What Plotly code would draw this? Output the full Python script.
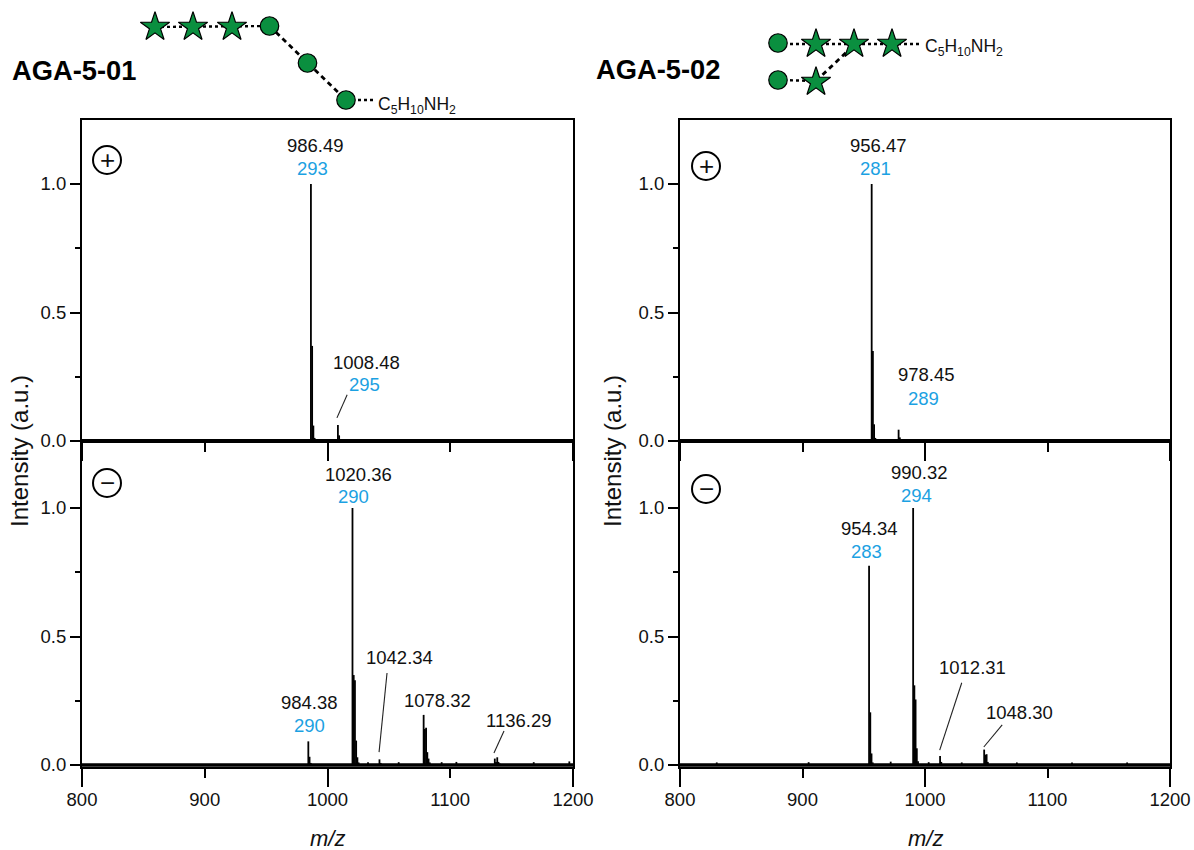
import plotly.graph_objects as go

# ---------- data ----------
peaks_a_pos_x = [986.49, 987.49, 988.49, 989.5, 1008.48, 1009.48, 1010.48]
peaks_a_pos_y = [1.0, 0.37, 0.06, 0.012, 0.062, 0.022, 0.006]
peaks_a_neg_x = [984.38, 985.38, 986.38, 1020.36, 1021.36, 1022.36, 1023.36, 1024.36, 1025.36, 1033, 1042.34, 1043.34,
                 1058, 1078.32, 1079.32, 1080.32, 1081.32, 1082.32, 1083.32, 1093, 1105, 1136.29, 1137.29, 1138.29,
                 1139.29, 1140.29, 1141.3, 1168, 1197]
peaks_a_neg_y = [0.092, 0.032, 0.008, 1.0, 0.35, 0.33, 0.095, 0.03, 0.01, 0.011, 0.022, 0.008,
                 0.011, 0.195, 0.14, 0.145, 0.05, 0.025, 0.01, 0.011, 0.012, 0.025, 0.012, 0.03,
                 0.012, 0.006, 0.004, 0.011, 0.014]
peaks_b_pos_x = [956.47, 957.47, 958.47, 959.47, 978.45, 979.45, 980.45]
peaks_b_pos_y = [1.0, 0.35, 0.065, 0.012, 0.044, 0.014, 0.005]
peaks_b_neg_x = [830, 905, 954.34, 955.34, 956.34, 957.34, 972, 990.32, 991.32, 992.32, 993.32, 994.32,
                 1003, 1012.31, 1013.31, 1030, 1048.30, 1049.30, 1050.30, 1051.30, 1075, 1120, 1165]
peaks_b_neg_y = [0.01, 0.011, 0.775, 0.205, 0.045, 0.01, 0.013, 1.0, 0.31, 0.255, 0.065, 0.015,
                 0.011, 0.035, 0.012, 0.01, 0.06, 0.04, 0.042, 0.012, 0.01, 0.01, 0.01]

x_ticks = [800, 900, 1000, 1100, 1200]
long_x_ticks = [800, 1000, 1200]
y_ticks = [0.0, 0.5, 1.0]
y_minor_ticks = [0.25, 0.75]
y_tick_text = ["0.0", "0.5", "1.0"]

# labels: (x data, y data, text, colour)
BLK, BLU = "#111111", "#1ba1e2"
labels_a_pos = [(990, 1.15, "986.49", BLK), (988, 1.06, "293", BLU),
                (1032, 0.305, "1008.48", BLK), (1030, 0.22, "295", BLU)]
labels_a_neg = [(1025, 1.13, "1020.36", BLK), (1021, 1.045, "290", BLU),
                (1059, 0.42, "1042.34", BLK), (985, 0.245, "984.38", BLK), (985, 0.155, "290", BLU),
                (1090, 0.25, "1078.32", BLK), (1156, 0.175, "1136.29", BLK)]
labels_b_pos = [(962, 1.15, "956.47", BLK), (960, 1.06, "281", BLU),
                (1001, 0.26, "978.45", BLK), (999, 0.165, "289", BLU)]
labels_b_neg = [(995.5, 1.14, "990.32", BLK), (993, 1.05, "294", BLU),
                (955, 0.92, "954.34", BLK), (952, 0.83, "283", BLU),
                (1038.5, 0.38, "1012.31", BLK), (1077, 0.205, "1048.30", BLK)]

# leader lines: x0, y0, x1, y1 in data units
leaders_a_pos = [(1007.7, 0.09, 1016, 0.18)]
leaders_a_neg = [(1042, 0.05, 1048.5, 0.358), (1135.6, 0.047, 1143.8, 0.132)]
leaders_b_pos = []
leaders_b_neg = [(1012, 0.058, 1030, 0.32), (1048, 0.07, 1063, 0.156)]

# glycan cartoon nodes on a 1194 x 850 canvas
circle_x = [269.5, 307.5, 346, 778, 778]
circle_y = [26, 63, 100, 43, 80]
star_x = [155, 193, 232, 816, 854, 892, 816]
star_y = [27, 27, 27, 44, 44, 44, 82]
dot_link_x = [[155, 269.5], [346, 375], [778, 922], [778, 816]]
dot_link_y = [[27, 26], [100, 100], [44, 44], [80, 81]]
dash_link_x = [[269.5, 346], [816, 854]]
dash_link_y = [[26, 100], [81, 45]]

fig = go.Figure()
W, H = 1194, 850
FONT = "Liberation Sans"
LBL = 18.5

panels = [
    ("x", "y", (82, 573), (120, 441), peaks_a_pos_x, peaks_a_pos_y, labels_a_pos, leaders_a_pos),
    ("x2", "y2", (82, 573), (441, 767), peaks_a_neg_x, peaks_a_neg_y, labels_a_neg, leaders_a_neg),
    ("x3", "y3", (680, 1170), (120, 441), peaks_b_pos_x, peaks_b_pos_y, labels_b_pos, leaders_b_pos),
    ("x4", "y4", (680, 1170), (441, 767), peaks_b_neg_x, peaks_b_neg_y, labels_b_neg, leaders_b_neg),
]

annotations = []
shapes = []
layout = {}
for i, (xa, ya, xpx, ypx, px, py, labs, leads) in enumerate(panels):
    xs, ys = [], []
    for a, b in zip(px, py):
        xs += [a, a, None]
        ys += [0, b, None]
    fig.add_trace(go.Scatter(x=xs, y=ys, mode="lines", xaxis=xa, yaxis=ya,
                             line=dict(color="black", width=1.8), hoverinfo="skip", showlegend=False))
    # thick noisy baseline
    fig.add_trace(go.Scatter(x=[800, 1200], y=[0, 0], mode="lines", xaxis=xa, yaxis=ya,
                             line=dict(color="black", width=3.4), hoverinfo="skip", showlegend=False))
    xname = "xaxis" if i == 0 else f"xaxis{i+1}"
    yname = "yaxis" if i == 0 else f"yaxis{i+1}"
    is_top = i in (0, 2)
    layout[xname] = dict(
        domain=[xpx[0] / W, xpx[1] / W], range=[800, 1200], anchor=ya, automargin=False,
        tickmode="array", tickvals=x_ticks, showticklabels=not is_top,
        ticks="outside", ticklen=9, tickwidth=1.6, tickcolor="black",
        minor=dict(tickmode="array", tickvals=long_x_ticks, ticks="outside", ticklen=18,
                   tickwidth=1.6, tickcolor="black"),
        ticklabelstandoff=6,
        tickfont=dict(family=FONT, size=LBL, color=BLK),
        showgrid=False, zeroline=False, showline=True, linecolor="black", linewidth=2, mirror=True,
    )
    top = (441 - ypx[0]) / 257 if is_top else (765 - 441) / 257
    bottom = 0 if is_top else -2 / 257
    layout[yname] = dict(
        domain=[1 - ypx[1] / H, 1 - ypx[0] / H], range=[bottom, top], anchor=xa, automargin=False,
        tickmode="array", tickvals=y_ticks, ticktext=y_tick_text,
        ticks="outside", ticklen=10, tickwidth=2, tickcolor="black",
        minor=dict(tickmode="array", tickvals=y_minor_ticks, ticks="outside", ticklen=5,
                   tickwidth=1.6, tickcolor="black"),
        tickfont=dict(family=FONT, size=LBL, color=BLK),
        showgrid=False, zeroline=False, showline=True, linecolor="black", linewidth=2, mirror=True,
    )
    for (lx, ly, text, col) in labs:
        annotations.append(dict(x=lx, y=ly, xref=xa, yref=ya, text=text, showarrow=False,
                                font=dict(family=FONT, size=LBL, color=col), xanchor="center", yanchor="middle"))
    for (x0, y0, x1, y1) in leads:
        shapes.append(dict(type="line", x0=x0, y0=y0, x1=x1, y1=y1, xref=xa, yref=ya,
                           line=dict(color="#222", width=1.1)))

# overlay canvas axes for cartoon and paper text
layout["xaxis5"] = dict(domain=[0, 1], range=[0, W], visible=False, anchor="y5", fixedrange=True, automargin=False)
layout["yaxis5"] = dict(domain=[0, 1], range=[H, 0], visible=False, anchor="x5", fixedrange=True, automargin=False)

for lx, ly in zip(dot_link_x, dot_link_y):
    fig.add_trace(go.Scatter(x=lx, y=ly, mode="lines", xaxis="x5", yaxis="y5",
                             line=dict(color="black", width=2.4, dash="3px,3px"),
                             hoverinfo="skip", showlegend=False))
for lx, ly in zip(dash_link_x, dash_link_y):
    fig.add_trace(go.Scatter(x=lx, y=ly, mode="lines", xaxis="x5", yaxis="y5",
                             line=dict(color="black", width=2.8, dash="5px,4px"),
                             hoverinfo="skip", showlegend=False))
fig.add_trace(go.Scatter(x=circle_x, y=circle_y, mode="markers", xaxis="x5", yaxis="y5",
                         marker=dict(symbol="circle", size=18.5, color="#0a8f3f", line=dict(color="black", width=1.2)),
                         hoverinfo="skip", showlegend=False))
fig.add_trace(go.Scatter(x=star_x, y=star_y, mode="markers", xaxis="x5", yaxis="y5",
                         marker=dict(symbol="star", size=22, color="#0a8f3f", line=dict(color="black", width=1.2)),
                         hoverinfo="skip", showlegend=False))
# polarity badges
badge_x = [107, 107, 706, 706]
badge_y = [160, 483, 166, 489]
badge_t = ["+", "\u2212", "+", "\u2212"]
fig.add_trace(go.Scatter(x=badge_x, y=badge_y, mode="markers", xaxis="x5", yaxis="y5",
                         marker=dict(symbol="circle", size=28, color="white", line=dict(color="black", width=2)),
                         hoverinfo="skip", showlegend=False))

def canvas_text(x, y, text, size, anchor="center", color=BLK, bold=False, italic=False, angle=0):
    if bold:
        text = f"<b>{text}</b>"
    if italic:
        text = f"<i>{text}</i>"
    annotations.append(dict(x=x, y=y, xref="x5", yref="y5", text=text, showarrow=False, textangle=angle,
                            xanchor=anchor, yanchor="middle", font=dict(family=FONT, size=size, color=color)))

for bx, by, bt in zip(badge_x, badge_y, badge_t):
    canvas_text(bx, by, bt, 26)
canvas_text(10, 70, "AGA-5-01", 27.3, "left", "black", bold=True)
canvas_text(594, 69, "AGA-5-02", 27.3, "left", "black", bold=True)
sub = "<sub>{}</sub>"
formula = "C" + sub.format("5") + "H" + sub.format("10") + "NH" + sub.format("2")
canvas_text(376, 105, formula, 17.5, "left")
canvas_text(923, 47, formula, 17.5, "left")
canvas_text(19, 451, "Intensity (a.u.)", 24, angle=-90)
canvas_text(612, 451, "Intensity (a.u.)", 24, angle=-90)
canvas_text(327, 838, "m/z", 22, italic=True)
canvas_text(925, 838, "m/z", 22, italic=True)

fig.update_layout(template=None, width=W, height=H, autosize=False, margin=dict(l=0, r=0, t=0, b=0),
                  paper_bgcolor="white", plot_bgcolor="rgba(0,0,0,0)", showlegend=False,
                  annotations=annotations, shapes=shapes, **layout)
fig.write_html("out.html", config=dict(displayModeBar=False),
               post_script="document.body.style.margin='0';document.documentElement.style.overflow='hidden';")
